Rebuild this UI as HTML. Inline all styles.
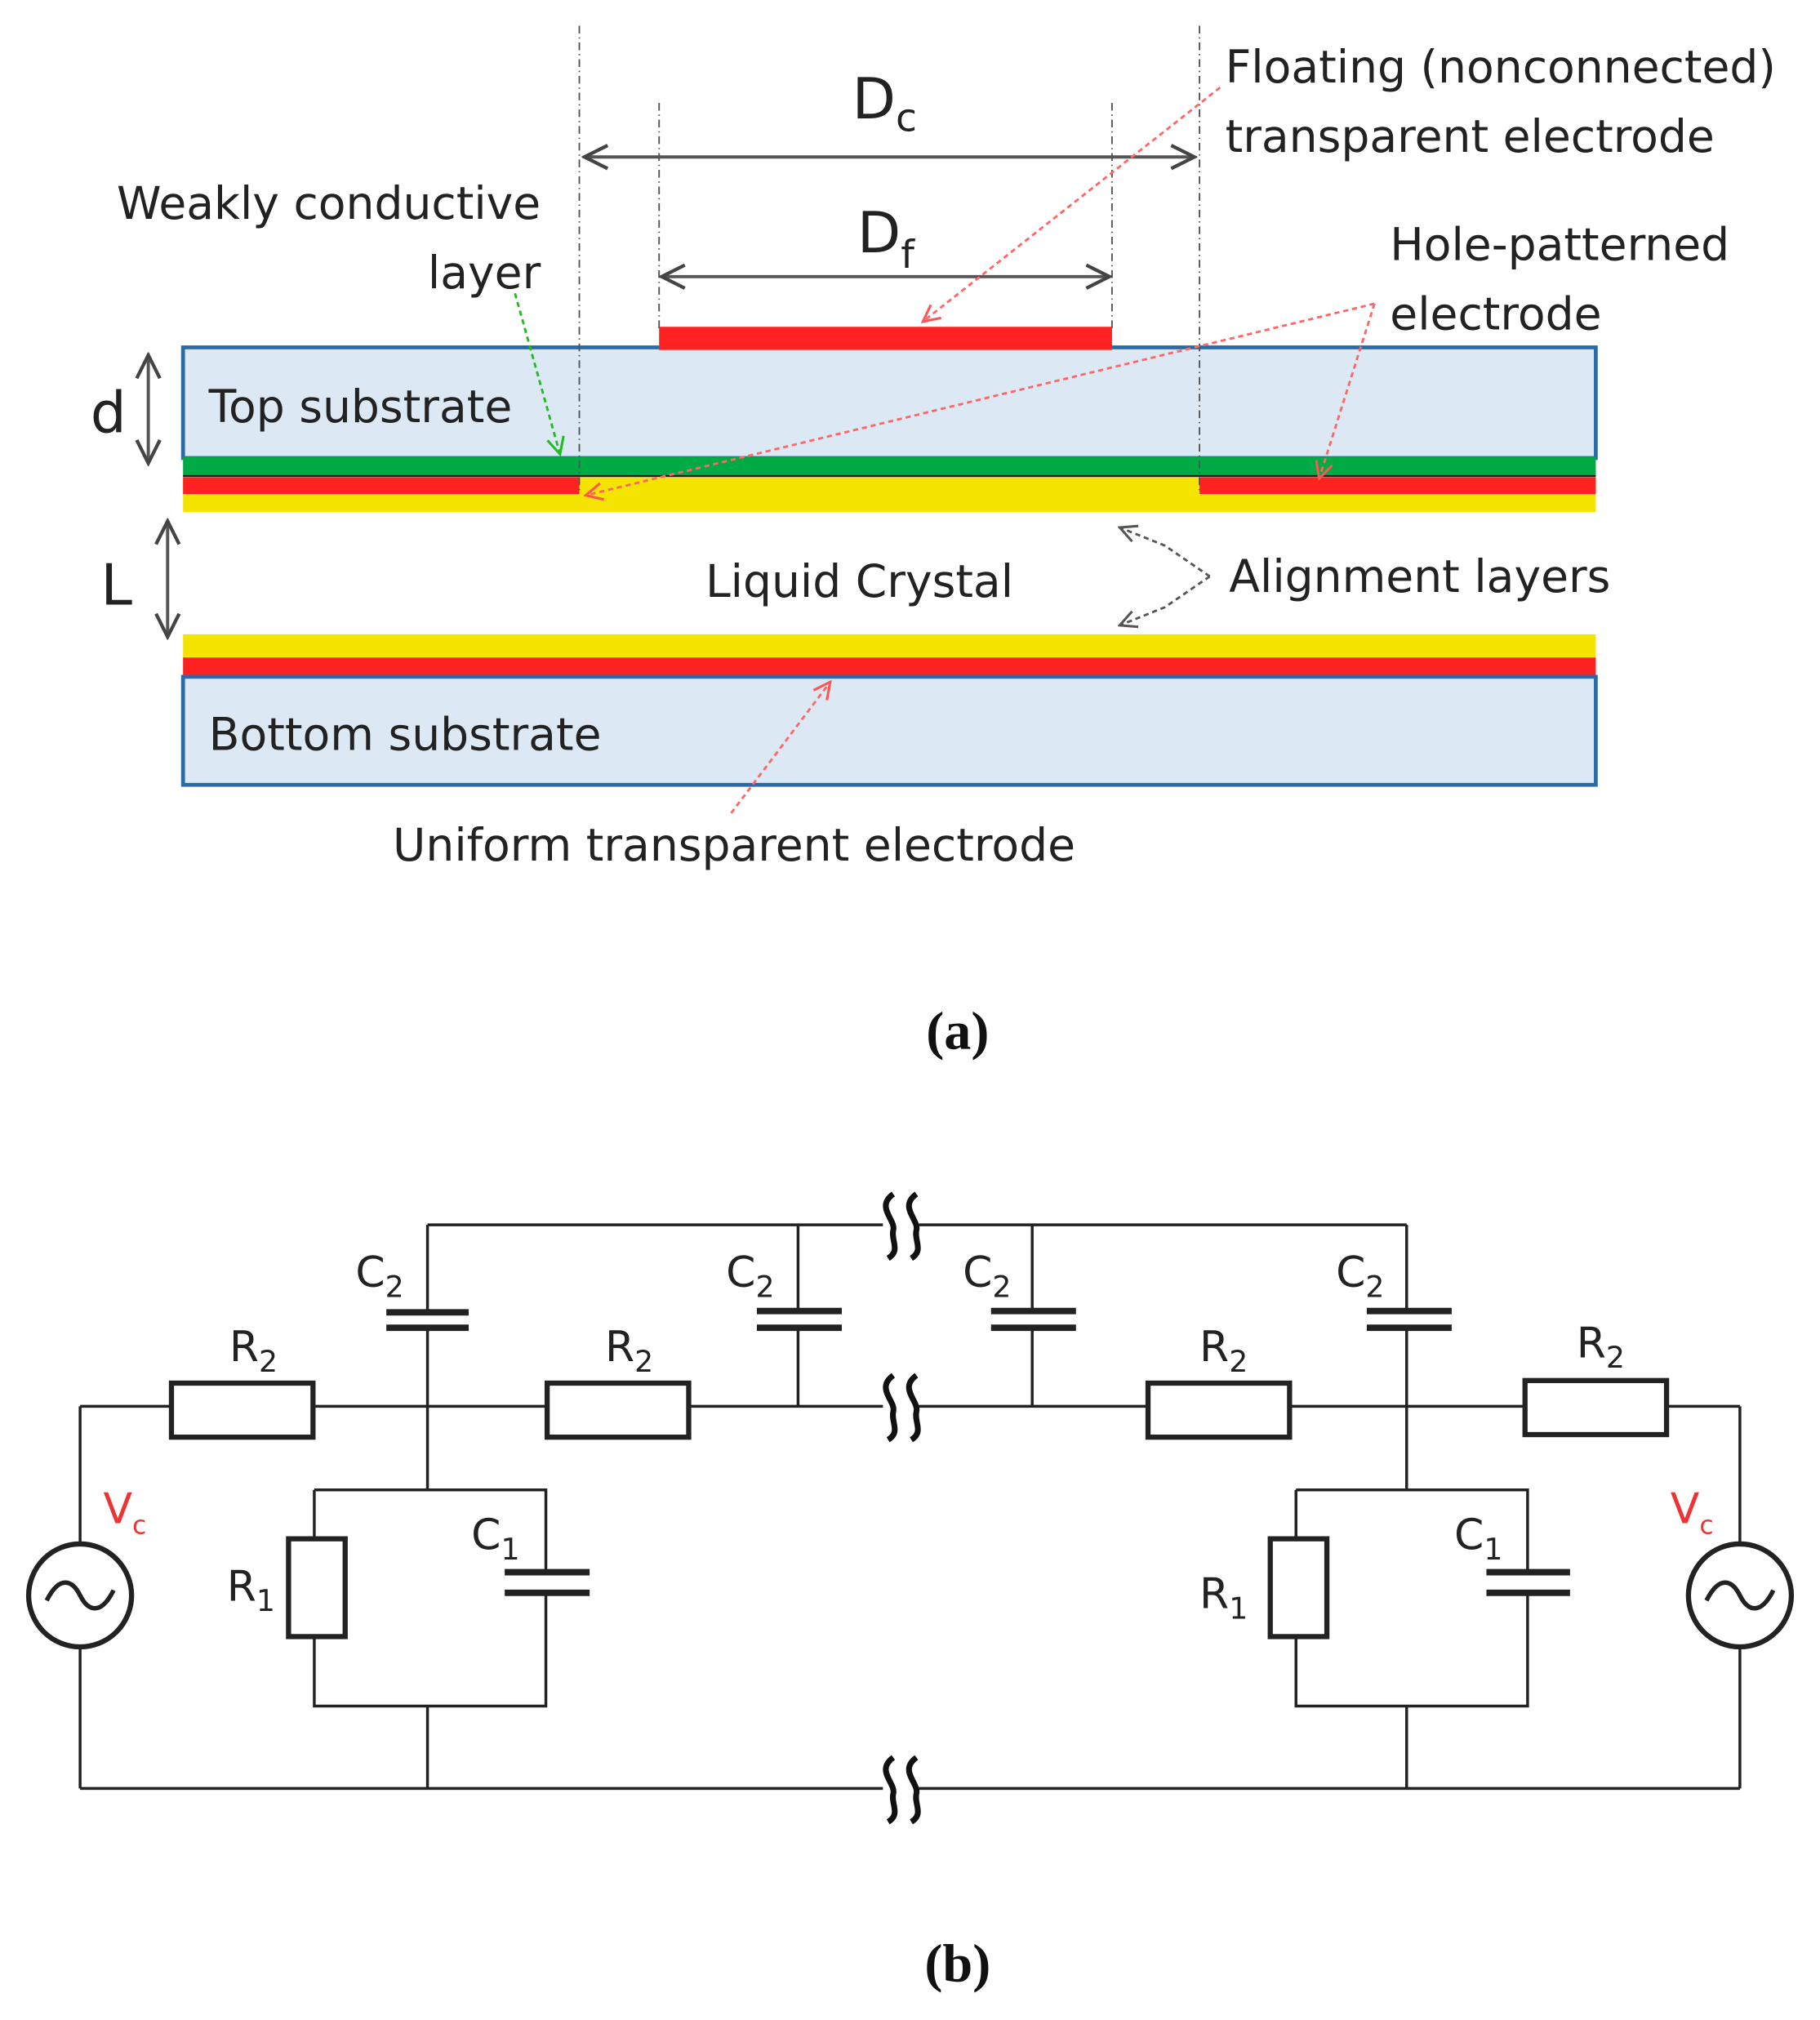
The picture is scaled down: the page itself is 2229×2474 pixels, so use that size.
<!DOCTYPE html>
<html><head><meta charset="utf-8"><style>
html,body{margin:0;padding:0;background:#fff}
svg{display:block}
text{font-family:"DejaVu Sans","Liberation Sans",sans-serif;fill:#222}
.s{font-family:"Liberation Serif",serif;font-weight:bold;fill:#111}
</style></head><body>
<svg width="2229" height="2474" viewBox="0 0 1414 1570" xmlns="http://www.w3.org/2000/svg">
<defs>
<marker id="ah" viewBox="0 0 10 10" refX="9" refY="5" markerWidth="9" markerHeight="9" orient="auto-start-reverse"><path d="M1,1 L9,5 L1,9" fill="none" stroke="#444" stroke-width="1.2"/></marker>
<marker id="ar" viewBox="0 0 10 10" refX="9" refY="5" markerWidth="9" markerHeight="9" orient="auto"><path d="M1,1 L9,5 L1,9" fill="none" stroke="#f55" stroke-width="1.2"/></marker>
<marker id="ag" viewBox="0 0 10 10" refX="9" refY="5" markerWidth="9" markerHeight="9" orient="auto"><path d="M1,1 L9,5 L1,9" fill="none" stroke="#2b2" stroke-width="1.2"/></marker>
<marker id="ak" viewBox="0 0 10 10" refX="9" refY="5" markerWidth="9" markerHeight="9" orient="auto"><path d="M1,1 L9,5 L1,9" fill="none" stroke="#555" stroke-width="1.2"/></marker>
<g id="brk"><rect x="-14" y="-6" width="28" height="12" fill="#fff"/><path d="M-6,-24 C-20,-14 -4,-4 -6,4 C-8,12 0,20 -10,26 M12,-24 C-2,-14 14,-4 12,4 C10,12 18,20 8,26" fill="none" stroke="#111" stroke-width="4.5"/></g>
</defs>
<!-- part a -->
<rect x="142" y="270" width="1098" height="86" fill="#dce8f4" stroke="#2a6aa8" stroke-width="3"/>
<rect x="512" y="254" width="352" height="18" fill="#f22"/>
<rect x="142" y="355" width="1098" height="15" fill="#0a4"/>
<line x1="142" y1="370" x2="1240" y2="370" stroke="#222" stroke-width="1.5"/>
<rect x="142" y="371" width="1098" height="27" fill="#f5e400"/>
<rect x="142" y="371" width="308" height="13" fill="#f22"/>
<rect x="932" y="371" width="308" height="13" fill="#f22"/>
<rect x="142" y="493" width="1098" height="18" fill="#f5e400"/>
<rect x="142" y="511" width="1098" height="15" fill="#f22"/>
<rect x="142" y="526" width="1098" height="84" fill="#dce8f4" stroke="#2a6aa8" stroke-width="3"/>
<g stroke="#555" stroke-width="1.2" stroke-dasharray="6,3,1,3">
<line x1="450" y1="20" x2="450" y2="382"/><line x1="932" y1="20" x2="932" y2="382"/>
<line x1="512" y1="80" x2="512" y2="255"/><line x1="864" y1="80" x2="864" y2="255"/>
</g>
<g stroke="#555" stroke-width="2.5" fill="none">
<line x1="454" y1="122" x2="928" y2="122" marker-start="url(#ah)" marker-end="url(#ah)"/>
<line x1="514" y1="215" x2="862" y2="215" marker-start="url(#ah)" marker-end="url(#ah)"/>
<line x1="115" y1="276" x2="115" y2="360" marker-start="url(#ah)" marker-end="url(#ah)"/>
<line x1="130" y1="405" x2="130" y2="495" marker-start="url(#ah)" marker-end="url(#ah)"/>
</g>
<g stroke="#f66" stroke-width="1.8" stroke-dasharray="4,3" fill="none">
<line x1="948" y1="68" x2="717" y2="250" marker-end="url(#ar)"/>
<line x1="1068" y1="236" x2="455" y2="385" marker-end="url(#ar)"/>
<line x1="1068" y1="236" x2="1025" y2="372" marker-end="url(#ar)"/>
<line x1="568" y1="632" x2="645" y2="530" marker-end="url(#ar)"/>
</g>
<line x1="400" y1="228" x2="435" y2="353" stroke="#2b2" stroke-width="1.8" stroke-dasharray="4,3" marker-end="url(#ag)"/>
<g stroke="#555" stroke-width="1.8" stroke-dasharray="4,3" fill="none">
<path d="M940,448 L905,424 L870,410" marker-end="url(#ak)"/>
<path d="M940,448 L905,472 L870,486" marker-end="url(#ak)"/>
</g>
<text x="662" y="92" font-size="44">D<tspan font-size="30" dy="10">c</tspan></text>
<text x="666" y="196" font-size="44">D<tspan font-size="30" dy="12">f</tspan></text>
<text x="70" y="336" font-size="44">d</text>
<text x="78" y="470" font-size="44">L</text>
<text x="952" y="64" font-size="35">Floating (nonconnected)</text>
<text x="952" y="118" font-size="35">transparent electrode</text>
<text x="420" y="170" font-size="35" text-anchor="end">Weakly conductive</text>
<text x="420" y="224" font-size="35" text-anchor="end">layer</text>
<text x="1080" y="202" font-size="35">Hole-patterned</text>
<text x="1080" y="256" font-size="35">electrode</text>
<text x="162" y="328" font-size="35">Top substrate</text>
<text x="548" y="464" font-size="35">Liquid Crystal</text>
<text x="955" y="460" font-size="35">Alignment layers</text>
<text x="162" y="583" font-size="35">Bottom substrate</text>
<text x="305" y="669" font-size="35">Uniform transparent electrode</text>
<text class="s" x="744" y="815" font-size="42" text-anchor="middle">(a)</text>
<!-- part b -->
<g stroke="#222" stroke-width="2.2" fill="none">
<path d="M332,952 H686 M714,952 H1093"/>
<path d="M62,1093 H133 M243,1093 H425 M535,1093 H686 M714,1093 H892 M1002,1093 H1185 M1295,1093 H1352"/>
<path d="M62,1390 H686 M714,1390 H1352"/>
<path d="M62,1093 V1200 M62,1280 V1390 M1352,1093 V1200 M1352,1280 V1390"/>
<path d="M332,952 V1020 M332,1032 V1158 M332,1326 V1390"/>
<path d="M1093,952 V1020 M1093,1032 V1158 M1093,1326 V1390"/>
<path d="M620,952 V1020 M620,1032 V1093 M802,952 V1020 M802,1032 V1093"/>
<path d="M244,1158 H424 V1222 M424,1238 V1326 H244 V1272 M244,1196 V1158"/>
<path d="M1007,1158 H1187 V1222 M1187,1238 V1326 H1007 V1272 M1007,1196 V1158"/>
</g>
<g stroke="#222" stroke-width="4" fill="#fff">
<rect x="133" y="1075" width="110" height="42"/><rect x="425" y="1075" width="110" height="42"/>
<rect x="892" y="1075" width="110" height="42"/><rect x="1185" y="1073" width="110" height="42"/>
<rect x="224" y="1196" width="44" height="76"/><rect x="987" y="1196" width="44" height="76"/>
<circle cx="62" cy="1240" r="40"/><circle cx="1352" cy="1240" r="40"/>
</g>
<g stroke="#222" stroke-width="5">
<path d="M300,1020 H364 M300,1032 H364 M588,1019 H654 M588,1032 H654 M770,1019 H836 M770,1032 H836 M1062,1019 H1128 M1062,1032 H1128"/>
<path d="M392,1222 H458 M392,1238 H458 M1155,1222 H1220 M1155,1238 H1220"/>
</g>
<g stroke="#222" stroke-width="3.5" fill="none">
<path d="M36,1244 C46,1224 56,1228 62,1240 C68,1252 78,1256 88,1236"/>
<path d="M1326,1244 C1336,1224 1346,1228 1352,1240 C1358,1252 1368,1256 1378,1236"/>
</g>
<use href="#brk" x="700" y="952"/><use href="#brk" x="700" y="1093"/><use href="#brk" x="700" y="1390"/>
<g font-size="33">
<text x="276" y="1000">C<tspan font-size="23" dy="8">2</tspan></text>
<text x="564" y="1000">C<tspan font-size="23" dy="8">2</tspan></text>
<text x="748" y="1000">C<tspan font-size="23" dy="8">2</tspan></text>
<text x="1038" y="1000">C<tspan font-size="23" dy="8">2</tspan></text>
<text x="178" y="1058">R<tspan font-size="23" dy="8">2</tspan></text>
<text x="470" y="1058">R<tspan font-size="23" dy="8">2</tspan></text>
<text x="932" y="1058">R<tspan font-size="23" dy="8">2</tspan></text>
<text x="1225" y="1055">R<tspan font-size="23" dy="8">2</tspan></text>
<text x="366" y="1204">C<tspan font-size="23" dy="8">1</tspan></text>
<text x="1130" y="1204">C<tspan font-size="23" dy="8">1</tspan></text>
<text x="176" y="1244">R<tspan font-size="23" dy="8">1</tspan></text>
<text x="932" y="1250">R<tspan font-size="23" dy="8">1</tspan></text>
<text x="80" y="1184" style="fill:#e33">V<tspan font-size="20" dy="8" style="fill:#e33">c</tspan></text>
<text x="1298" y="1184" style="fill:#e33">V<tspan font-size="20" dy="8" style="fill:#e33">c</tspan></text>
</g>
<text class="s" x="744" y="1540" font-size="42" text-anchor="middle">(b)</text>
</svg>
</body></html>
